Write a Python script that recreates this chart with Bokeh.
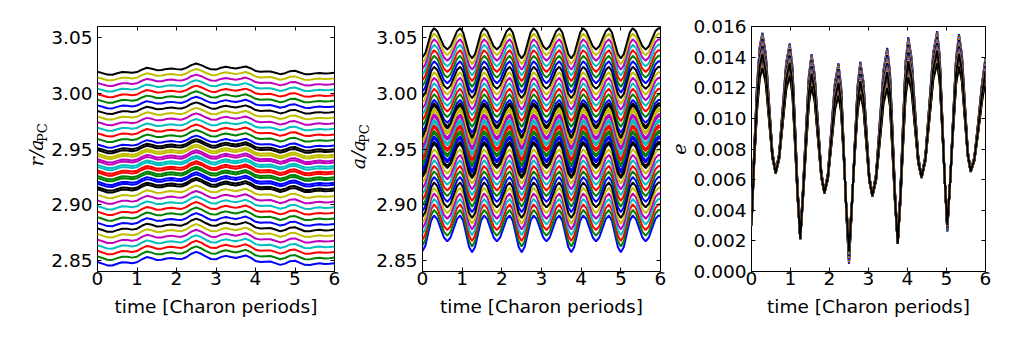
import math
from bokeh.plotting import figure
from bokeh.layouts import row
from bokeh.models import (LinearAxis, FixedTicker, PrintfTickFormatter,
                          Range1d, ColumnDataSource)
from bokeh.core.properties import value
from bokeh.embed import file_html
from bokeh.resources import INLINE

# ---------------- data ----------------
# panel 1: r / a_PC  -- base radius of each test particle + common wiggle (units of 1e-3)
r_base = [2.849, 2.854, 2.859, 2.864, 2.869, 2.874, 2.879, 2.884, 2.889, 2.894,
          2.899, 2.904, 2.909, 2.914, 2.919, 2.924, 2.929, 2.934, 2.939, 2.944,
          2.949, 2.954, 2.959, 2.964, 2.969, 2.974, 2.979, 2.984, 2.989, 2.994,
          2.999, 3.004, 3.009, 3.014, 3.019]
r_extra = [2.9158, 2.9208, 2.9258, 2.9308, 2.9358, 2.9408, 2.9458, 2.9508]
r_t = [0.0, 0.125, 0.25, 0.375, 0.5, 0.625, 0.75, 0.875, 1.0, 1.125, 1.25, 1.375,
       1.5, 1.625, 1.75, 1.875, 2.0, 2.125, 2.25, 2.375, 2.5, 2.625, 2.75, 2.875,
       3.0, 3.125, 3.25, 3.375, 3.5, 3.625, 3.75, 3.875, 4.0, 4.125, 4.25, 4.375,
       4.5, 4.625, 4.75, 4.875, 5.0, 5.125, 5.25, 5.375, 5.5, 5.625, 5.75, 5.875, 6.0]
r_dev = [0.0, -1.2, -2.5, -2.6, -1.3, -0.2, -0.3, -0.9, -0.2, 2.0, 3.6, 2.8,
         1.5, 1.6, 2.6, 3.0, 2.4, 2.1, 3.5, 6.0, 7.4, 6.0, 3.9, 2.2,
         2.0, 3.6, 4.5, 3.6, 2.9, 3.8, 4.8, 3.2, 0.8, 0.0, 0.2, 0.3,
         -0.8, -2.1, -1.2, 0.6, 0.9, -0.6, -2.1, -2.2, -1.4, -1.0, -1.5, -1.3, -0.9]

# panel 2: a / a_PC
a_base = [2.876, 2.881, 2.886, 2.891, 2.896, 2.901, 2.906, 2.911, 2.916, 2.921,
          2.926, 2.931, 2.936, 2.941, 2.946, 2.951, 2.956, 2.961, 2.966, 2.971,
          2.976, 2.981, 2.986, 2.991, 2.996, 3.001, 3.006, 3.011, 3.016, 3.021,
          3.026, 3.031, 3.036, 3.041, 3.046]
a_extra = [2.9428, 2.9478, 2.9528, 2.9578, 2.9628, 2.9678, 2.9728, 2.9778]
amp = [1.22, 1.21, 1.21, 1.20, 1.19, 1.19, 1.18, 1.17, 1.17, 1.16,
       1.16, 1.15, 1.14, 1.14, 1.13, 1.12, 1.12, 1.11, 1.10, 1.10,
       1.09, 1.08, 1.08, 1.07, 1.06, 1.06, 1.05, 1.04, 1.04, 1.03,
       1.03, 1.02, 1.01, 1.01, 1.00]
a_t = [0.0, 0.0725, 0.145, 0.2175, 0.29,
       0.374, 0.4575, 0.541, 0.625,
       0.706, 0.7875, 0.869, 0.95,
       1.025, 1.1, 1.175, 1.25,
       1.325, 1.4, 1.475, 1.55,
       1.631, 1.7125, 1.794, 1.875,
       1.956, 2.0375, 2.119, 2.2,
       2.275, 2.35, 2.425, 2.5,
       2.575, 2.65, 2.725, 2.8,
       2.881, 2.9625, 3.044, 3.125,
       3.206, 3.2875, 3.369, 3.45,
       3.525, 3.6, 3.675, 3.75,
       3.825, 3.9, 3.975, 4.05,
       4.131, 4.2125, 4.294, 4.375,
       4.456, 4.5375, 4.619, 4.7,
       4.775, 4.85, 4.925, 5.0,
       5.075, 5.15, 5.225, 5.3,
       5.381, 5.4625, 5.544, 5.625,
       5.706, 5.7875, 5.869, 5.95,
       6.0]
a_dev = [-14.0, -10.2, -1.0, 8.2, 12.0,
         9.2, 2.5, -4.2, -7.0,
         -4.2, 2.5, 9.2, 12.0,
         8.1, -1.5, -11.1, -15.0,
         -11.1, -1.5, 8.1, 12.0,
         9.2, 2.5, -4.2, -7.0,
         -4.2, 2.5, 9.2, 12.0,
         8.1, -1.5, -11.1, -15.0,
         -11.1, -1.5, 8.1, 12.0,
         9.2, 2.5, -4.2, -7.0,
         -4.2, 2.5, 9.2, 12.0,
         8.1, -1.5, -11.1, -15.0,
         -11.1, -1.5, 8.1, 12.0,
         9.2, 2.5, -4.2, -7.0,
         -4.2, 2.5, 9.2, 12.0,
         8.1, -1.5, -11.1, -15.0,
         -11.1, -1.5, 8.1, 12.0,
         9.2, 2.5, -4.2, -7.0,
         -4.2, 2.5, 9.2, 12.0,
         11.7]

# panel 3: eccentricity, upper (inner orbit) and lower (outer orbit) envelopes, units 1e-4
e_w = [0.00, 0.03, 0.06, 0.09, 0.12, 0.15, 0.18, 0.21, 0.24, 0.26,
       0.29, 0.32, 0.35, 0.38, 0.41, 0.44, 0.47, 0.50, 0.53, 0.56,
       0.59, 0.62, 0.65, 0.68, 0.71, 0.74, 0.76, 0.79, 0.82, 0.85,
       0.88, 0.91, 0.94, 0.97, 1.00]
e_w_extra = [0.395, 0.425, 0.455, 0.485, 0.515, 0.545, 0.575, 0.605]
e_t = [0.0, 0.07, 0.14, 0.21, 0.28,
       0.365, 0.45, 0.535, 0.62,
       0.71, 0.80, 0.89, 0.98,
       1.05, 1.115, 1.18, 1.25,
       1.32, 1.395, 1.47, 1.54,
       1.62, 1.705, 1.79, 1.87,
       1.96, 2.05, 2.14, 2.23,
       2.30, 2.365, 2.43, 2.50,
       2.57, 2.645, 2.72, 2.79,
       2.87, 2.945, 3.02, 3.10,
       3.195, 3.29, 3.385, 3.48,
       3.55, 3.615, 3.68, 3.75,
       3.82, 3.885, 3.95, 4.02,
       4.105, 4.19, 4.275, 4.36,
       4.46, 4.56, 4.66, 4.76,
       4.825, 4.89, 4.955, 5.02,
       5.095, 5.17, 5.245, 5.32,
       5.395, 5.47, 5.545, 5.62,
       5.715, 5.81, 5.905, 6.00]
e_hi = [30, 80, 121, 147, 156,
        142.7, 110.5, 78.3, 65,
        77.3, 107, 136.7, 149,
        133.9, 96.1, 55.8, 23,
        53.9, 92, 127.7, 142,
        128.9, 97, 65.1, 52,
        64.3, 94, 123.7, 136,
        120.3, 81, 39.1, 5,
        39.3, 81.6, 121.2, 137,
        124.3, 93.5, 62.7, 50,
        64, 98, 132, 146,
        130.8, 92.7, 52, 19,
        53.8, 96.7, 136.9, 153,
        139.7, 107.5, 75.3, 62,
        75.9, 109.5, 143.1, 157,
        141.3, 102, 60.1, 26,
        59.5, 100.8, 139.5, 155,
        142, 110.5, 79, 66,
        74.9, 97.1, 121.5, 140]
e_lo = [30, 71.2, 104.2, 125.8, 133,
        122.9, 98.5, 74.1, 64,
        73.3, 96, 118.7, 128,
        115.2, 83.1, 48.8, 21,
        47, 79, 109, 121,
        110.8, 86, 61.2, 51,
        60.3, 83, 105.7, 115,
        103.4, 74.3, 43.2, 18,
        43.5, 74.8, 104.2, 116,
        106.2, 82.5, 58.8, 49,
        59.4, 84.5, 109.6, 120,
        107.8, 77.2, 44.5, 18,
        46.3, 81.2, 113.9, 127,
        117.4, 94, 70.6, 61,
        72, 98.5, 125, 136,
        123.6, 92.7, 59.8, 33,
        59.3, 91.6, 121.9, 134,
        123.9, 99.5, 75.1, 65,
        72.2, 90.2, 110, 125]

x_ticks = [0, 1, 2, 3, 4, 5, 6]
ra_ticks = [2.85, 2.90, 2.95, 3.00, 3.05]
e_ticks = [0.0, 0.002, 0.004, 0.006, 0.008, 0.010, 0.012, 0.014, 0.016]
x_title = "time [Charon periods]"

# ---------------- styling ----------------
cycle = ["#0000ff", "#008000", "#ff0000", "#00bfbf", "#bf00bf", "#bfbf00", "#000000"]
colors = [cycle[i % 7] for i in range(len(r_base))] + [cycle[i % 7] for i in range(13, 21)]
amp_all = amp + amp[13:21]
FONT = "DejaVu Sans"
FS = "18.5px"
LW = 2
H = 328


def style_axis(ax, ticks, fmt, show):
    ax.ticker = FixedTicker(ticks=ticks)
    ax.axis_line_color = None
    ax.major_tick_in = 4
    ax.major_tick_out = 0
    ax.minor_tick_in = 0
    ax.minor_tick_out = 0
    ax.major_tick_line_color = "black"
    ax.major_tick_line_width = 1
    if show:
        ax.formatter = PrintfTickFormatter(format=fmt)
        ax.major_label_text_font = FONT
        ax.major_label_text_font_size = FS
        ax.major_label_text_color = "black"
    else:
        ax.major_label_overrides = {t: "" for t in ticks}
        ax.major_label_standoff = 0


def make_fig(width, left, right, yr, yticks, yfmt):
    p = figure(width=width, height=H, x_range=Range1d(0, 6), y_range=Range1d(*yr),
               output_backend="svg", toolbar_location=None,
               x_axis_location=None, y_axis_location=None,
               min_border_left=left, min_border_right=right,
               min_border_top=26, min_border_bottom=57)
    p.grid.visible = False
    p.outline_line_color = "black"
    p.outline_line_width = 1
    p.outline_line_alpha = 1
    p.background_fill_color = "white"
    p.border_fill_color = "white"

    xb = LinearAxis()
    style_axis(xb, x_ticks, "%d", True)
    xb.major_label_standoff = 0
    xb.axis_label = x_title
    xb.axis_label_text_font = FONT
    xb.axis_label_text_font_size = FS
    xb.axis_label_text_font_style = "normal"
    xb.axis_label_text_color = "black"
    xb.axis_label_standoff = 8
    p.add_layout(xb, "below")

    xt = LinearAxis()
    style_axis(xt, x_ticks, "%d", False)
    p.add_layout(xt, "above")

    yl = LinearAxis()
    style_axis(yl, yticks, yfmt, True)
    yl.major_label_standoff = 5
    p.add_layout(yl, "left")

    yr_ax = LinearAxis()
    style_axis(yr_ax, yticks, yfmt, False)
    p.add_layout(yr_ax, "right")
    return p, yl


def label_strip(width, main, sub, mx, my, sx, sy):
    """narrow strip holding a math-style y title (italic main + roman subscript).
    Coordinates are pixels from the strip's bottom-left corner; text is centred there."""
    q = figure(width=width, height=H, x_range=Range1d(0, width), y_range=Range1d(0, H),
               output_backend="svg", toolbar_location=None,
               x_axis_location=None, y_axis_location=None,
               min_border=0, min_border_left=0, min_border_right=0,
               min_border_top=0, min_border_bottom=0)
    q.grid.visible = False
    q.outline_line_color = None
    q.background_fill_color = "white"
    q.border_fill_color = "white"
    q.text(x=[mx], y=[my], text=[main], angle=math.pi / 2,
           text_font=value("DejaVu Serif"), text_font_style="italic",
           text_font_size="19px", text_color="black",
           text_align="center", text_baseline="middle")
    q.text(x=[sx], y=[sy], text=[sub], angle=math.pi / 2,
           text_font=value("DejaVu Serif"), text_font_style="normal",
           text_font_size="13px", text_color="black",
           text_align="center", text_baseline="middle")
    return q


# panel 1
s1 = label_strip(48, "r/a", "PC", 35.5, 159, 41.5, 186)
p1, yl1 = make_fig(292, 49, 6, (2.8405, 3.0595), ra_ticks, "%.2f")
xs1 = []
ys1 = []
for b, k in zip(r_base + r_extra, amp_all):
    xs1.append(r_t)
    ys1.append([b + k * d * 1e-3 for d in r_dev])
p1.multi_line(xs="xs", ys="ys", line_color="color", line_width=LW,
              source=ColumnDataSource(dict(xs=xs1, ys=ys1, color=colors)))

# panel 2
s2 = label_strip(32, "a/a", "PC", 17.5, 156.5, 23.5, 184.5)
p2, yl2 = make_fig(296, 50, 8, (2.8405, 3.0595), ra_ticks, "%.2f")
xs2 = []
ys2 = []
for b, k in zip(a_base + a_extra, amp_all):
    xs2.append(a_t)
    ys2.append([b + k * d * 1e-3 for d in a_dev])
p2.multi_line(xs="xs", ys="ys", line_color="color", line_width=LW,
              source=ColumnDataSource(dict(xs=xs2, ys=ys2, color=colors)))

# panel 3
p3, yl3 = make_fig(334, 79, 17, (0.0, 0.016), e_ticks, "%.3f")
xs3 = []
ys3 = []
for w in e_w + e_w_extra:
    xs3.append(e_t)
    ys3.append([(hi + w * (lo - hi)) * 1e-4 for hi, lo in zip(e_hi, e_lo)])
p3.multi_line(xs="xs", ys="ys", line_color="color", line_width=LW,
              source=ColumnDataSource(dict(xs=xs3, ys=ys3, color=colors)))

yl3.axis_label = "e"
yl3.axis_label_text_font = "DejaVu Serif"
yl3.axis_label_text_font_style = "italic"
yl3.axis_label_text_font_size = "19px"
yl3.axis_label_text_color = "black"
yl3.axis_label_standoff = 5

layout = row(s1, p1, s2, p2, p3)
open("out.html", "w").write(file_html(layout, INLINE))
